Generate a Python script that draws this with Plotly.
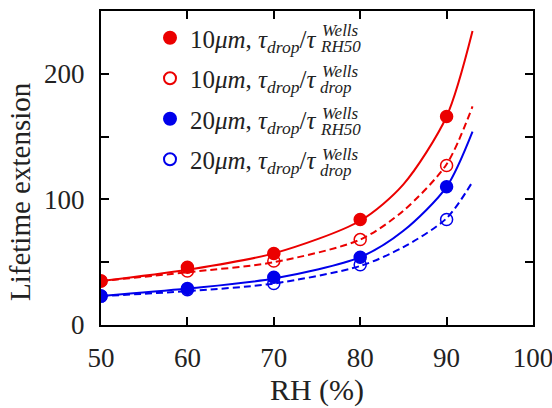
import plotly.graph_objects as go

# ---- data ----
rh_points = [50, 60, 70, 80, 90]
red_rh50 = [35, 46, 57, 84, 166]
red_drop = [35, 43, 51, 68, 127]
blue_rh50 = [23, 29, 38, 54, 110]
blue_drop = [23, 28, 33, 48, 84]

rh_curve = [50, 60, 70, 80, 85, 90, 93]
red_rh50_fit = [35, 44, 57, 83, 112, 166, 234]
red_drop_fit = [35, 42, 50, 68, 91, 128, 174]
blue_rh50_fit = [23, 29, 37, 54, 75, 110, 154]
blue_drop_fit = [23, 27, 33, 47, 62, 85, 114]

legend_main = [
    "10<i>μm</i>, <i>τ</i><sub><i>drop</i></sub>/<i>τ</i>",
    "10<i>μm</i>, <i>τ</i><sub><i>drop</i></sub>/<i>τ</i>",
    "20<i>μm</i>, <i>τ</i><sub><i>drop</i></sub>/<i>τ</i>",
    "20<i>μm</i>, <i>τ</i><sub><i>drop</i></sub>/<i>τ</i>",
]
legend_sup = ["Wells", "Wells", "Wells", "Wells"]
legend_sub = ["RH50", "drop", "RH50", "drop"]

x_ticks = [50, 60, 70, 80, 90, 100]
y_ticks = [0, 50, 100, 150, 200, 250]
y_ticktext = ["0", "", "100", "", "200", ""]

RED = "rgb(235,0,0)"
BLUE = "rgb(0,0,235)"
FONT = "'Liberation Serif', 'Times New Roman', Times, serif"
TXT = "#222222"

L, R, T, B = 101, 19, 11, 83
PW, PH = 552 - L - R, 408 - T - B

fig = go.Figure()

# fitted curves
for ys, col, dash in [(red_rh50_fit, RED, "solid"), (red_drop_fit, RED, "dash"),
                      (blue_rh50_fit, BLUE, "solid"), (blue_drop_fit, BLUE, "dash")]:
    fig.add_trace(go.Scatter(x=rh_curve, y=ys, mode="lines", showlegend=False,
                             line=dict(color=col, width=2, dash=dash if dash == "solid" else "7px,4px",
                                       shape="spline", smoothing=0.8),
                             hoverinfo="skip"))

# markers
series = [(red_rh50, RED, "circle"), (red_drop, RED, "circle-open"),
          (blue_rh50, BLUE, "circle"), (blue_drop, BLUE, "circle-open")]
for i, (ys, col, sym) in enumerate(series):
    fig.add_trace(go.Scatter(x=rh_points, y=ys, mode="markers", name=legend_main[i],
                             legendgroup=f"g{i}",
                             marker=dict(color=col, size=12, symbol=sym,
                                         line=dict(color=col, width=1.5))))

# stacked super/subscripts of the legend entries
row_px = [39, 80, 121, 162]
for i, yc in enumerate(row_px):
    fig.add_annotation(xref="paper", yref="paper", x=(320 - L) / PW, y=(T + PH - (yc - 8)) / PH,
                       xanchor="left", yanchor="middle", showarrow=False,
                       text=f"<i>{legend_sup[i]}</i>", font=dict(family=FONT, size=17, color=TXT))
    fig.add_annotation(xref="paper", yref="paper", x=(318 - L) / PW, y=(T + PH - (yc + 8)) / PH,
                       xanchor="left", yanchor="middle", showarrow=False,
                       text=f"<i>{legend_sub[i]}</i>", font=dict(family=FONT, size=17, color=TXT))

# y axis title (placed lower than the plot centre, as in the reference)
fig.add_annotation(xref="paper", yref="paper", x=(20 - L) / PW, y=(T + PH - 192) / PH,
                   xanchor="center", yanchor="middle", showarrow=False, textangle=-90,
                   text="Lifetime extension", font=dict(family=FONT, size=29, color=TXT))

axis_common = dict(showline=True, linecolor="black", linewidth=2, mirror="allticks",
                   ticks="inside", ticklen=8, tickwidth=1.5, tickcolor="black",
                   showgrid=False, zeroline=False, automargin=False,
                   tickfont=dict(family=FONT, size=27, color=TXT))

fig.update_xaxes(range=[50, 100], tickvals=x_ticks, ticklabelstandoff=8, ticklabeloverflow="allow",
                 title=dict(text="RH (%)", font=dict(family=FONT, size=30, color=TXT), standoff=3),
                 **axis_common)
fig.update_yaxes(range=[0, 250], tickvals=y_ticks, ticktext=y_ticktext, ticklabelstandoff=9,
                 ticklabeloverflow="allow", **axis_common)

fig.update_layout(
    width=552, height=408,
    margin=dict(l=L, r=R, t=T, b=B),
    paper_bgcolor="white", plot_bgcolor="white",
    legend=dict(x=(150 - L) / PW, y=(T + PH - 15) / PH, xanchor="left", yanchor="top",
                bgcolor="rgba(0,0,0,0)", font=dict(family=FONT, size=25, color=TXT),
                tracegroupgap=5, itemsizing="constant"),
    showlegend=True,
)

fig.write_html("out.html")
